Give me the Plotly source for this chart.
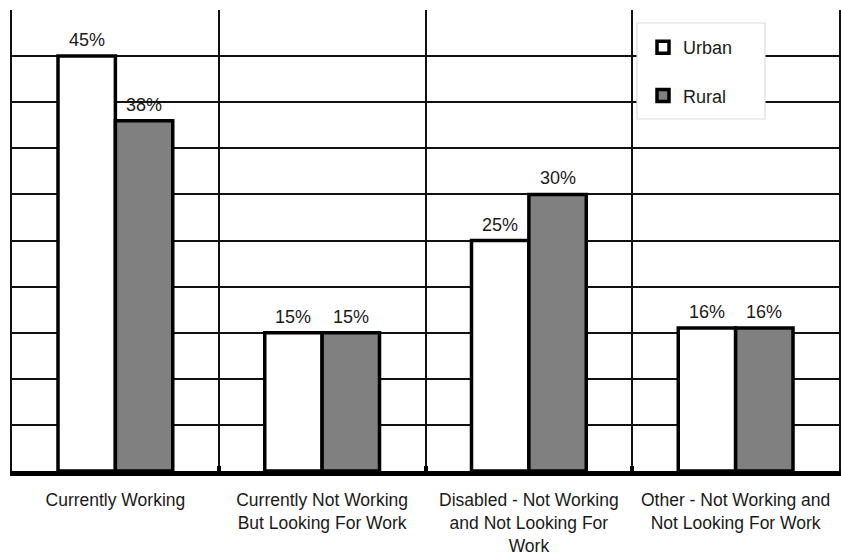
import plotly.graph_objects as go

categories = [
    "Currently Working",
    "Currently Not Working<br>But Looking For Work",
    "Disabled - Not Working<br>and Not Looking For<br>Work",
    "Other - Not Working and<br>Not Looking For Work",
]
urban_values = [45, 15, 25, 15.5]
rural_values = [38, 15, 30, 15.5]
y_ticks = [0, 5, 10, 15, 20, 25, 30, 35, 40, 45, 50]

FONT = "Liberation Sans, Arial, sans-serif"
TXT = "#1a1a1a"
FS = 18
BARGAP = 0.445

L, R, T, B = 12, 2, 10, 85
W, H = 841, 556
pw, ph = W - L - R, H - T - B

fig = go.Figure()
fig.add_trace(go.Bar(
    name="Urban", x=categories, y=urban_values,
    marker=dict(color="white", line=dict(color="black", width=3.5)),
    legendgroup="u",
))
fig.add_trace(go.Bar(
    name="Rural", x=categories, y=rural_values,
    marker=dict(color="#808080", line=dict(color="black", width=3.5)),
    legendgroup="r",
))

# value labels above each bar, placed via data coordinates
cat_px = pw / len(categories)
half_bar_px = cat_px * (1 - BARGAP) / 4
for series, sign in ((urban_values, -1), (rural_values, 1)):
    for cat, val in zip(categories, series):
        fig.add_annotation(
            x=cat, y=val, xref="x", yref="y",
            text=f"{val:.0f}%",
            showarrow=False, xanchor="center", yanchor="middle",
            xshift=sign * half_bar_px, yshift=16,
            font=dict(size=FS, color=TXT, family=FONT),
        )


def px2x(px):
    return (px - L) / pw


def px2y(py):
    return (H - B - py) / ph


fig.add_shape(type="rect", xref="paper", yref="paper",
              x0=px2x(637), x1=px2x(765), y0=px2y(119), y1=px2y(23),
              line=dict(color="#dddddd", width=1.2), fillcolor="white",
              layer="above")

fig.update_layout(
    width=W, height=H,
    margin=dict(l=L, r=R, t=T, b=B, autoexpand=False),
    paper_bgcolor="white", plot_bgcolor="white",
    barmode="group", bargap=BARGAP, bargroupgap=0,
    font=dict(family=FONT, size=FS, color=TXT),
    showlegend=True,
    legend=dict(
        x=px2x(643), y=px2y(29), xanchor="left", yanchor="top",
        bgcolor="rgba(0,0,0,0)", borderwidth=0,
        font=dict(size=FS, color=TXT, family=FONT),
        tracegroupgap=22, itemwidth=30, traceorder="grouped",
    ),
    xaxis=dict(
        type="category", tickson="boundaries", showgrid=True,
        gridcolor="#111111", gridwidth=1.5,
        showline=True, linecolor="black", linewidth=5,
        ticks="inside", ticklen=5, tickwidth=4, tickcolor="black",
        tickfont=dict(size=17.5, color=TXT, family=FONT),
        tickangle=0, automargin=False,
        ticklabelstandoff=9, range=[-0.5, 3.5], fixedrange=True,
    ),
    yaxis=dict(
        range=[0, 50], tickvals=y_ticks, showticklabels=False,
        showgrid=True, gridcolor="#111111", gridwidth=1.5,
        showline=True, mirror=True, linecolor="#111111", linewidth=1.5,
        zeroline=False, ticks="", fixedrange=True, automargin=False,
    ),
)

fig.write_html("out.html")
